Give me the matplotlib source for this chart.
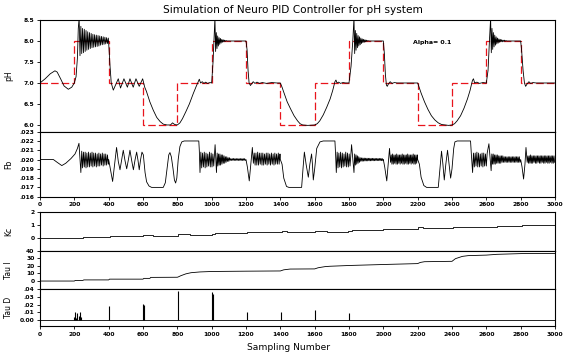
import numpy as np
import matplotlib
matplotlib.use("Agg")
import matplotlib.pyplot as plt

# --- DATA ---
SP_EDGES = [0, 200, 400, 600, 800, 1000, 1200, 1400, 1600, 1800, 2000, 2200, 2400, 2600, 2800, 3000]
SP_LEVELS = [7, 8, 7, 6, 7, 8, 7, 6, 7, 8, 7, 6, 7, 8, 7]

# pH response: smooth parts as (sample, value), oscillating parts as (start, step, values)
ph_pts_a = [(0, 7.0), (30, 7.1), (60, 7.22), (87, 7.29), (100, 7.26), (120, 7.1), (140, 6.93),
            (165, 6.85), (185, 6.9), (200, 7.0), (210, 7.15), (218, 7.6), (223, 8.3)]
ph_osc_a = (228, 5, [8.55, 7.65, 8.35, 7.7, 8.3, 7.72, 8.28, 7.75, 8.25, 7.78, 8.22, 7.8, 8.2, 7.82,
                     8.18, 7.84, 8.16, 7.85, 8.15, 7.86, 8.14, 7.87, 8.13, 7.88, 8.12, 7.9, 8.11,
                     7.91, 8.1, 7.92, 8.09, 7.93, 8.08, 7.94, 8.07])
ph_pts_b = [(400, 7.95), (408, 7.4), (415, 7.0), (427, 6.83), (440, 6.95), (456, 7.1), (469, 6.88),
            (489, 7.1), (509, 6.9), (524, 7.1), (543, 6.9), (559, 7.1), (578, 6.92), (598, 7.1),
            (604, 7.0), (610, 6.9), (620, 6.8), (640, 6.55), (660, 6.35), (680, 6.18), (700, 6.08),
            (718, 6.02), (740, 6.0), (760, 6.0), (772, 6.05), (785, 6.01), (800, 6.0), (815, 6.05),
            (830, 6.15), (850, 6.32), (870, 6.5), (893, 6.75), (910, 6.92), (928, 7.09), (935, 7.0),
            (945, 7.03), (955, 6.99), (965, 7.02), (975, 6.99), (990, 7.01), (1000, 7.0),
            (1008, 7.5), (1014, 8.1)]
ph_osc_b = (1019, 4, [8.55, 7.75, 8.2, 7.82, 8.12, 7.88, 8.08, 7.92, 8.06, 7.95, 8.04, 7.97, 8.03,
                      7.98, 8.02, 7.99, 8.01])
ph_pts_c = [(1090, 8.0), (1200, 8.0), (1206, 7.8), (1212, 7.3), (1218, 7.0), (1226, 6.94),
            (1234, 6.99), (1242, 7.03), (1252, 6.99), (1264, 7.02), (1278, 6.99), (1295, 7.01),
            (1320, 6.99), (1350, 7.01), (1380, 7.0), (1400, 7.0), (1410, 6.9), (1420, 6.78),
            (1440, 6.55), (1460, 6.38), (1480, 6.22), (1500, 6.1), (1515, 6.03), (1530, 6.0),
            (1560, 5.99), (1600, 6.0), (1615, 6.03), (1630, 6.1), (1650, 6.24), (1670, 6.42),
            (1690, 6.62), (1705, 6.82), (1718, 7.03), (1724, 7.07), (1730, 7.0), (1740, 7.02),
            (1750, 6.99), (1765, 7.01), (1780, 7.0), (1800, 7.0), (1812, 7.4), (1822, 8.0)]
ph_osc_c = (1829, 4, [8.55, 7.7, 8.25, 7.78, 8.18, 7.84, 8.13, 7.88, 8.1, 7.91, 8.07, 7.94, 8.05,
                      7.96, 8.04, 7.97, 8.03, 7.98, 8.02, 7.99, 8.01])
ph_pts_d = [(1915, 8.0), (2000, 8.0), (2006, 7.7), (2012, 7.2), (2018, 6.95), (2023, 6.92),
            (2030, 6.98), (2040, 7.03), (2050, 6.99), (2065, 7.01), (2080, 7.0), (2200, 7.0),
            (2210, 6.88), (2220, 6.76), (2240, 6.55), (2260, 6.37), (2280, 6.22), (2300, 6.12),
            (2320, 6.05), (2340, 6.01), (2360, 6.0), (2380, 5.99), (2400, 6.0), (2415, 6.03),
            (2430, 6.1), (2450, 6.22), (2470, 6.4), (2490, 6.62), (2505, 6.82), (2519, 7.06),
            (2525, 7.1), (2532, 7.0), (2545, 7.02), (2560, 6.99), (2580, 7.01), (2600, 7.0),
            (2610, 7.3), (2618, 8.0)]
ph_osc_d = (2625, 4, [8.55, 7.72, 8.3, 7.8, 8.2, 7.86, 8.14, 7.9, 8.1, 7.93, 8.07, 7.95, 8.05,
                      7.97, 8.04, 7.98, 8.03, 7.98, 8.02, 7.99, 8.02, 7.99, 8.01])
ph_pts_e = [(2720, 8.0), (2800, 8.0), (2806, 7.75), (2814, 7.3), (2822, 7.0), (2829, 6.92),
            (2838, 6.98), (2848, 7.03), (2858, 6.99), (2872, 7.01), (2890, 7.0), (3000, 7.0)]

# Fb (controller output)
fb_pts_a = [(0, .0200), (78, .0200), (100, .0197), (127, .01935), (150, .0196), (180, .0201),
            (204, .0206), (218, .0212), (227, .02175), (233, .0200), (238, .0186)]
fb_osc_a = (243, 5, [.0209, .0191, .0208, .0192, .0208, .0191, .0207, .0192, .0208, .0192, .0207,
                     .0193, .0208, .0192, .0207, .0193, .0207, .0192, .0206, .0193, .0207, .0193,
                     .0206, .0194, .0207, .0193, .0206, .0194, .0206, .0194, .0205, .0195])
fb_pts_b = [(400, .0200), (410, .0190), (423, .01764), (435, .0195), (446, .0213), (456, .0198),
            (466, .0189), (476, .0200), (485, .0210), (495, .0199), (505, .0190), (515, .0200),
            (524, .0210), (534, .0199), (544, .0189), (554, .0200), (563, .0208), (571, .0199),
            (578, .0189), (586, .0200), (594, .0208), (602, .0205), (612, .0186), (621, .0176),
            (635, .01715), (650, .0170), (718, .0170), (730, .0175), (740, .0190), (750, .0205),
            (757, .02075), (765, .0203), (775, .0190), (783, .0178), (790, .01747), (797, .0180),
            (805, .0200), (815, .0214), (826, .0219), (840, .0220), (925, .0220), (928, .0210),
            (932, .0186)]
fb_osc_b = (937, 5, [.0208, .0191, .0207, .0192, .0208, .0191, .0207, .0192, .0206, .0193, .0208,
                     .0192, .0207, .0192, .0206, .0193])
fb_pts_c = [(1020, .0216), (1028, .0186)]
fb_osc_c = (1032, 4, [.0207, .0193, .0206, .0194, .0206, .0194, .0205, .0195, .0205, .0196, .0204,
                      .0196, .0203, .0197, .0203, .0198, .0202, .0198, .0202, .0199, .0201, .0199,
                      .0201, .0199, .02012, .01990, .0201, .0199, .0201, .0199, .0201, .0199,
                      .0201, .0199, .0201, .0199, .0201, .0199, .0201, .0199, .0201, .0199])
fb_pts_d = [(1200, .0200), (1208, .0192), (1219, .0177), (1228, .0195), (1237, .0213), (1243, .0196)]
fb_osc_d = (1248, 5, [.0207, .0194, .0207, .0194, .0208, .0194, .0207, .0195, .0207, .0194, .0207,
                      .0194, .0206, .0195, .0207, .0194, .0207, .0195, .0206, .0194, .0207, .0195,
                      .0206, .0194, .0207, .0195, .0206, .0195, .0207, .0195, .0206])
fb_pts_e = [(1400, .0200), (1410, .0195), (1420, .0180), (1436, .0171), (1450, .0170), (1524, .0170),
            (1532, .0190), (1540, .0208), (1550, .0195), (1563, .0181), (1572, .0195), (1582, .0206),
            (1587, .0195), (1592, .0178), (1600, .0190), (1612, .0212), (1631, .0219), (1650, .0220),
            (1718, .0220), (1722, .0205), (1726, .0186)]
fb_osc_e = (1731, 5, [.0208, .0191, .0207, .0192, .0208, .0191, .0207, .0192, .0206, .0193, .0208,
                      .0192, .0207, .0192, .0206, .0193])
fb_pts_f = [(1815, .0216), (1829, .0186)]
fb_osc_f = (1833, 4, [.0206, .0194, .0205, .0195, .0204, .0196, .0203, .0197, .0202, .0198, .02018,
                      .01982, .02017, .01983, .02016, .01984, .02015, .01985, .02015, .01985,
                      .02014, .01986, .02014, .01986, .02013, .01987, .02013, .01987, .02013,
                      .01987, .02012, .01988, .02012, .01988, .02012, .01988, .02012, .01988,
                      .02012, .01988, .02012, .01988])
fb_pts_g = [(2000, .0200), (2008, .0192), (2020, .0177), (2028, .0195), (2036, .0212), (2042, .0197)]
fb_osc_g = (2046, 4, [.0205, .0195, .0206, .0195, .0205, .0196, .0205, .0195, .0206, .0195, .0205,
                      .0196, .0205, .0195, .0205, .0196, .0206, .0195, .0205, .0195, .0205, .0196,
                      .0205, .0195, .0206, .0195, .0205, .0196, .0205, .0195, .0205, .0196, .0206,
                      .0195, .0205, .0195, .0205, .0196, .0205])
fb_pts_h = [(2200, .0200), (2210, .0195), (2220, .0181), (2236, .0172), (2252, .0170), (2320, .0170),
            (2330, .0190), (2339, .0209), (2347, .0195), (2355, .0178), (2364, .0195), (2374, .0210),
            (2383, .0195), (2392, .0180), (2400, .0190), (2410, .0212), (2417, .0219), (2430, .0220),
            (2508, .0220), (2513, .0205), (2520, .0186)]
fb_osc_h = (2525, 5, [.0207, .0192, .0207, .0193, .0208, .0192, .0207, .0192, .0206, .0193, .0207,
                      .0192, .0207, .0193, .0206, .0193, .0207])
fb_pts_i = [(2615, .0217), (2628, .0188)]
fb_osc_i = (2632, 4, [.0206, .0195, .0206, .0195, .0205, .0195, .0205, .0196, .0205, .0196, .0204,
                      .0196, .0204, .0196, .0204, .0197, .0204, .0197, .0203, .0197, .0203, .0197,
                      .0203, .0197, .0203, .0197, .0203, .0197, .0203, .0197, .0203, .0197, .0203,
                      .0197, .0203, .0197, .0203, .0197, .0203, .0197, .0203, .0197])
fb_pts_j = [(2800, .0200), (2808, .0192), (2817, .0179), (2825, .0195), (2831, .0213), (2838, .0197)]
fb_osc_j = (2842, 4, [.0204, .0196, .0204, .0196, .0205, .0196, .0204, .0196, .0204, .0197, .0204,
                      .0196, .0204, .0196, .0204, .0197, .0204, .0196, .0204, .0196, .0204, .0197,
                      .0204, .0196, .0204, .0196, .0204, .0197, .0204, .0196, .0204, .0196, .0204,
                      .0197, .0204, .0196, .0204, .0196, .0204, .0197])

# Kc (step values)
kc_x = [0, 252, 407, 602, 660, 806, 874, 1000, 1019, 1204, 1408, 1437, 1602, 1670, 1796, 1815,
        1996, 2019, 2203, 2232, 2407, 2436, 2601, 2660, 2805, 3000]
kc_y = [0.0, 0.07, 0.15, 0.27, 0.19, 0.34, 0.26, 0.36, 0.4, 0.45, 0.55, 0.44, 0.57, 0.5, 0.57, 0.63,
        0.68, 0.7, 0.82, 0.75, 0.88, 0.82, 0.87, 0.9, 0.98, 0.98]

# Tau I
taui_x = [0, 200, 205, 250, 255, 400, 405, 600, 605, 640, 645, 800, 806, 820, 850, 880, 932, 1000,
          1200, 1400, 1420, 1457, 1600, 1620, 1660, 1690, 1800, 2000, 2200, 2215, 2240, 2400, 2420,
          2460, 2494, 2600, 2660, 2805, 3000]
taui_y = [0, 0, 0.8, 0.8, 1.5, 1.5, 2.5, 2.5, 3.5, 3.5, 4.8, 5.0, 5.5, 7.0, 9.5, 11.0, 12.0, 12.6,
          13.0, 13.3, 14.8, 15.8, 16.0, 17.5, 19.0, 19.5, 20.5, 21.8, 23.0, 24.5, 25.5, 26.0, 29.5,
          32.5, 33.5, 34.2, 35.2, 36.2, 36.4]

# Tau D spikes
td_x = [200, 205, 210, 218, 226, 232, 236, 404, 600, 603, 805, 1000, 1006, 1204, 1404, 1602, 1800]
td_h = [.004, .010, .003, .009, .006, .011, .004, .018, .021, .019, .037, .036, .034, .010, .011,
        .013, .009]

X_TICKS = list(range(0, 3001, 200))


def merge(*parts):
    pts = []
    for p in parts:
        if isinstance(p, tuple):
            start, step, vals = p
            pts += [(start + i * step, v) for i, v in enumerate(vals)]
        else:
            pts += p
    pts.sort(key=lambda t: t[0])
    return np.array([t[0] for t in pts]), np.array([t[1] for t in pts])


ph_x, ph_y = merge(ph_pts_a, ph_osc_a, ph_pts_b, ph_osc_b, ph_pts_c, ph_osc_c, ph_pts_d,
                   ph_osc_d, ph_pts_e)
fb_x, fb_y = merge(fb_pts_a, fb_osc_a, fb_pts_b, fb_osc_b, fb_pts_c, fb_osc_c, fb_pts_d,
                   fb_osc_d, fb_pts_e, fb_osc_e, fb_pts_f, fb_osc_f, fb_pts_g, fb_osc_g,
                   fb_pts_h, fb_osc_h, fb_pts_i, fb_osc_i, fb_pts_j, fb_osc_j)

# --- FIGURE ---
plt.rcParams['font.family'] = 'DejaVu Sans'
fig = plt.figure(figsize=(5.65, 3.54), dpi=100)
L, W = 0.0708, 0.9115
ax_ph = fig.add_axes([L, 0.6280, W, 0.3155])
ax_fb = fig.add_axes([L, 0.4444, W, 0.1836])
ax_kc = fig.add_axes([L, 0.2918, W, 0.1102])
ax_ti = fig.add_axes([L, 0.1836, W, 0.1082])
ax_td = fig.add_axes([L, 0.0791, W, 0.1045])

TICK_FONT = dict(fontsize=4.3, fontweight='bold')
LW = 0.6

for ax in (ax_ph, ax_fb, ax_kc, ax_ti, ax_td):
    ax.set_xlim(0, 3000)
    for s in ax.spines.values():
        s.set_linewidth(0.8)
    ax.tick_params(axis='y', direction='out', length=2, width=0.6, pad=2)
    ax.tick_params(axis='x', direction='out', length=2, width=0.6, pad=2)
    ax.set_xticks(X_TICKS)

for ax in (ax_ph, ax_kc, ax_ti):
    ax.tick_params(axis='x', length=0, labelbottom=False)

for ax in (ax_fb, ax_td):
    ax.set_xticklabels([str(t) for t in X_TICKS], **TICK_FONT)

# pH
ax_ph.plot(ph_x, ph_y, color='black', lw=LW)
ax_ph.stairs(SP_LEVELS, SP_EDGES, baseline=None, color='#e8141c', lw=0.9, ls=(0, (6, 2.5)))
ax_ph.set_ylim(5.84, 8.5)
ph_ticks = [6.0, 6.5, 7.0, 7.5, 8.0, 8.5]
ax_ph.set_yticks(ph_ticks)
ax_ph.set_yticklabels([f"{t:.1f}" for t in ph_ticks], **TICK_FONT)
ax_ph.text(2172, 7.96, "Alpha= 0.1", fontsize=4.5, fontweight='bold', va='center')

# Fb
ax_fb.plot(fb_x, fb_y, color='black', lw=LW)
ax_fb.set_ylim(0.016, 0.023)
fb_ticks = [0.016, 0.017, 0.018, 0.019, 0.020, 0.021, 0.022, 0.023]
ax_fb.set_yticks(fb_ticks)
ax_fb.set_yticklabels([f"{t:.3f}"[1:] for t in fb_ticks], **TICK_FONT)

# Kc
ax_kc.step(kc_x, kc_y, where='post', color='black', lw=LW)
ax_kc.set_ylim(-0.93, 2)
ax_kc.set_yticks([0, 1, 2])
ax_kc.set_yticklabels(["0", "1", "2"], **TICK_FONT)

# Tau I
ax_ti.plot(taui_x, taui_y, color='black', lw=LW)
ax_ti.set_ylim(-10.5, 40)
ax_ti.set_yticks([0, 10, 20, 30, 40])
ax_ti.set_yticklabels(["0", "10", "20", "30", "40"], **TICK_FONT)

# Tau D
ax_td.axhline(0, color='black', lw=LW)
ax_td.vlines(td_x, 0, td_h, color='black', lw=0.8)
ax_td.set_ylim(-0.0074, 0.04)
ax_td.set_yticks([0, 0.01, 0.02, 0.03, 0.04])
ax_td.set_yticklabels(["0.00", ".01", ".02", ".03", ".04"], **TICK_FONT)

for ax, lab in ((ax_ph, "pH"), (ax_fb, "Fb"), (ax_kc, "Kc"), (ax_ti, "Tau I"), (ax_td, "Tau D")):
    ax.set_ylabel(lab, fontsize=5.5)
    ax.yaxis.set_label_coords(-0.052, 0.5)

fig.text(0.518, 0.972, "Simulation of Neuro PID Controller for pH system", fontsize=7.6,
         ha='center', va='center')
fig.text(0.51, 0.018, "Sampling Number", fontsize=6.6, ha='center', va='center')

fig.savefig("out.png", dpi=100)
